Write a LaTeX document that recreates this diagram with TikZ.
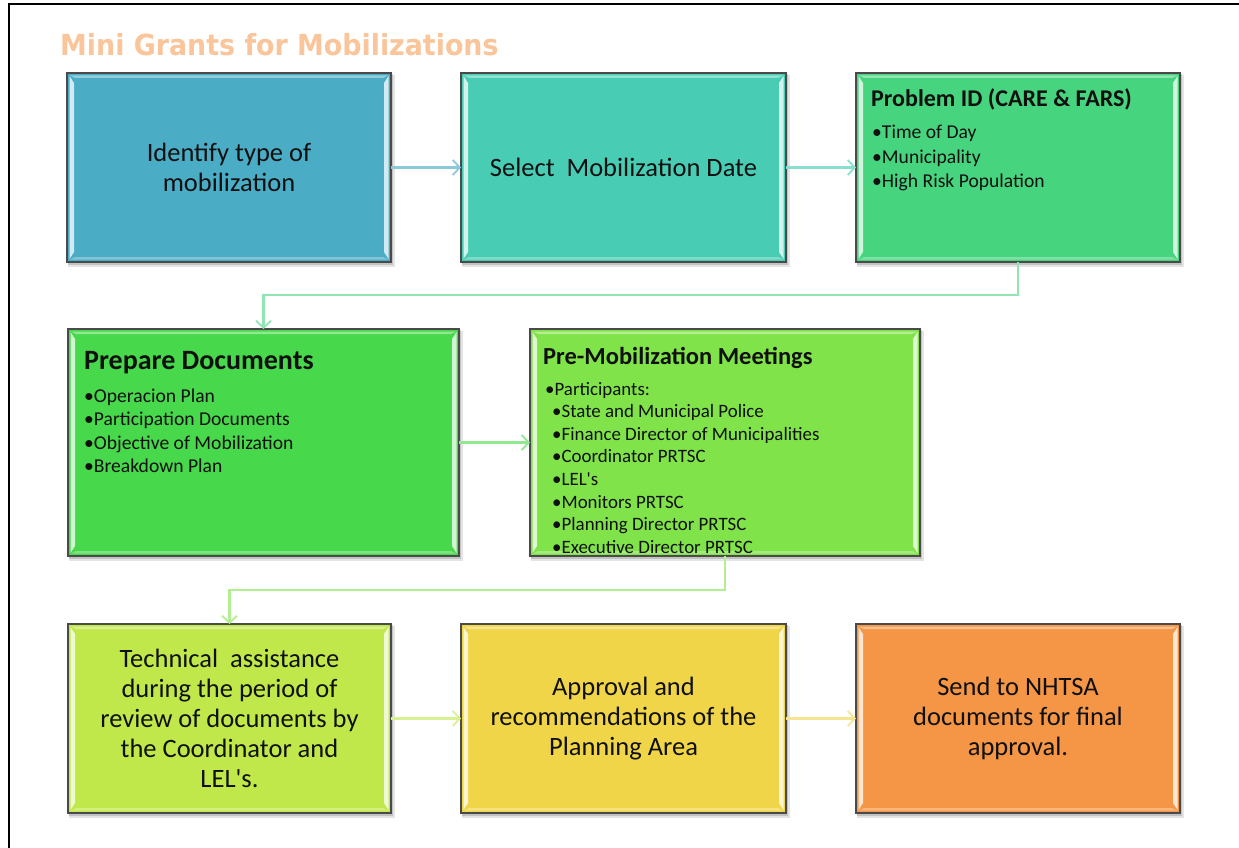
\documentclass[tikz,border=0pt]{standalone}
\usepackage{fontspec}
\setmainfont{Carlito}
\newfontfamily\titlefont{DejaVu Sans}
\usetikzlibrary{arrows.meta,fit}
\definecolor{c1}{HTML}{4BACC6}
\definecolor{c2}{HTML}{48CDB4}
\definecolor{c3}{HTML}{47D47F}
\definecolor{c4}{HTML}{47D84B}
\definecolor{c5}{HTML}{80E34A}
\definecolor{c6}{HTML}{C0E84A}
\definecolor{c7}{HTML}{F0D548}
\definecolor{c8}{HTML}{F59646}
\definecolor{outl}{HTML}{4A4A4A}
\definecolor{txt}{HTML}{101010}
\definecolor{ttl}{HTML}{FAC59A}
\tikzset{
  boxst/.style={draw=outl, line width=1.4pt, inner sep=0pt, outer sep=0pt},
  conn/.style={line width=2.2pt, -{Straight Barb[length=7pt,width=15pt,line width=1.8pt]}},
  big/.style={font=\fontsize{26.5}{30}\selectfont, align=center, text=txt},
  hdr/.style={font=\bfseries\fontsize{24}{28}\selectfont, anchor=base west, inner sep=0pt, text=txt},
  bul/.style={font=\fontsize{19.6}{22}\selectfont, anchor=base west, inner sep=0pt, text=txt},
  sbul/.style={font=\fontsize{18.9}{21}\selectfont, anchor=base west, inner sep=0pt, text=txt},
}
\newcommand\bbox[6]{%
  \fill[black!30, opacity=0.35] (#2+1,#3+2) rectangle (#4+4,#5+5);
  \fill[black!40, opacity=0.45] (#2+1,#3+1) rectangle (#4+2,#5+3);
  \node[boxst, fill=#6, fit={(#2,#3) (#4,#5)}] (#1) {};
  \fill[#6!25!white] (#2+2.5,#3+3) -- (#2+7,#3+10) -- (#2+7,#5-10) -- (#2+2.5,#5-3) -- cycle;
  \fill[#6!25!white] (#4-2.5,#3+3) -- (#4-7,#3+10) -- (#4-7,#5-10) -- (#4-2.5,#5-3) -- cycle;
  \fill[#6!60!white] (#2+3,#3+2.5) -- (#4-3,#3+2.5) -- (#4-8,#3+5) -- (#2+8,#3+5) -- cycle;
  \fill[#6!70!white] (#2+3,#5-2.5) -- (#4-3,#5-2.5) -- (#4-8,#5-5) -- (#2+8,#5-5) -- cycle;
}
\begin{document}
\begin{tikzpicture}[x=1pt,y=-1pt]
\useasboundingbox (0,0) rectangle (1239,848);
\fill[white] (0,0) rectangle (1239,848);
\draw[line width=2pt] (9,848) -- (9,4) -- (1239,4);

\node[anchor=west, inner sep=0pt, text=ttl] (title) at (60,45)
  {\scalebox{0.926}[1]{\titlefont\bfseries\fontsize{29}{32}\selectfont Mini Grants for Mobilizations}};

\bbox{b1}{67}{73}{391}{262}{c1}
\bbox{b2}{461}{73}{786}{262}{c2}
\bbox{b3}{856}{73}{1180}{262}{c3}
\bbox{b4}{68}{329}{459}{556}{c4}
\bbox{b5}{530}{329}{920}{556}{c5}
\bbox{b6}{68}{624}{391}{813}{c6}
\bbox{b7}{461}{624}{786}{813}{c7}
\bbox{b8}{856}{624}{1180}{813}{c8}

\node[big] (t1) at (b1.center) {Identify type of\\mobilization};
\node[big] (t2) at (b2.center) {Select~ Mobilization Date};
\node[big] (t6) at (b6.center) {Technical~ assistance\\during the period of\\review of documents by\\the Coordinator and\\LEL\textquotesingle s.};
\node[big] (t7) at (b7.center) {Approval and\\recommendations of the\\Planning Area};
\node[big] (t8) at (b8.center) {Send to NHTSA\\documents for final\\approval.};

\node[hdr] (h3) at (871,107) {Problem ID (CARE \& FARS)};
\foreach \t [count=\i] in {Time of Day, Municipality, High Risk Population}
  \node[bul] (l3\i) at (872,{139+24*(\i-1)}) {•\t};

\node[hdr, font=\bfseries\fontsize{28}{30}\selectfont] (h4) at (84,369) {Prepare Documents};
\foreach \t [count=\i] in {Operacion Plan, Participation Documents, Objective of Mobilization, Breakdown Plan}
  \node[bul] (l4\i) at (84,{402+23.5*(\i-1)}) {•\t};

\node[hdr, font=\bfseries\fontsize{24.5}{28}\selectfont] (h5) at (543,364) {Pre-Mobilization Meetings};
\node[sbul] (l50) at (545,395) {•Participants:};
\foreach \t [count=\i] in {State and Municipal Police, Finance Director of Municipalities, Coordinator PRTSC, LEL\textquotesingle s, Monitors PRTSC, Planning Director PRTSC, Executive Director PRTSC}
  \node[sbul] (l5\i) at (552,{395+22.6*\i}) {•\t};

\draw[conn, c1!65!white] (b1.east) -- (b2.west);
\draw[conn, c2!65!white] (b2.east) -- (b3.west);
\draw[conn, c3!60!white] (b3.south) -- ++(0,33) -| (b4.north);
\draw[conn, c4!60!white] (b4.east) -- (b5.west);
\draw[conn, c5!60!white] (b5.south) -- ++(0,34) -| (b6.north);
\draw[conn, c6!60!white] (b6.east) -- (b7.west);
\draw[conn, c7!60!white] (b7.east) -- (b8.west);
\end{tikzpicture}
\end{document}
